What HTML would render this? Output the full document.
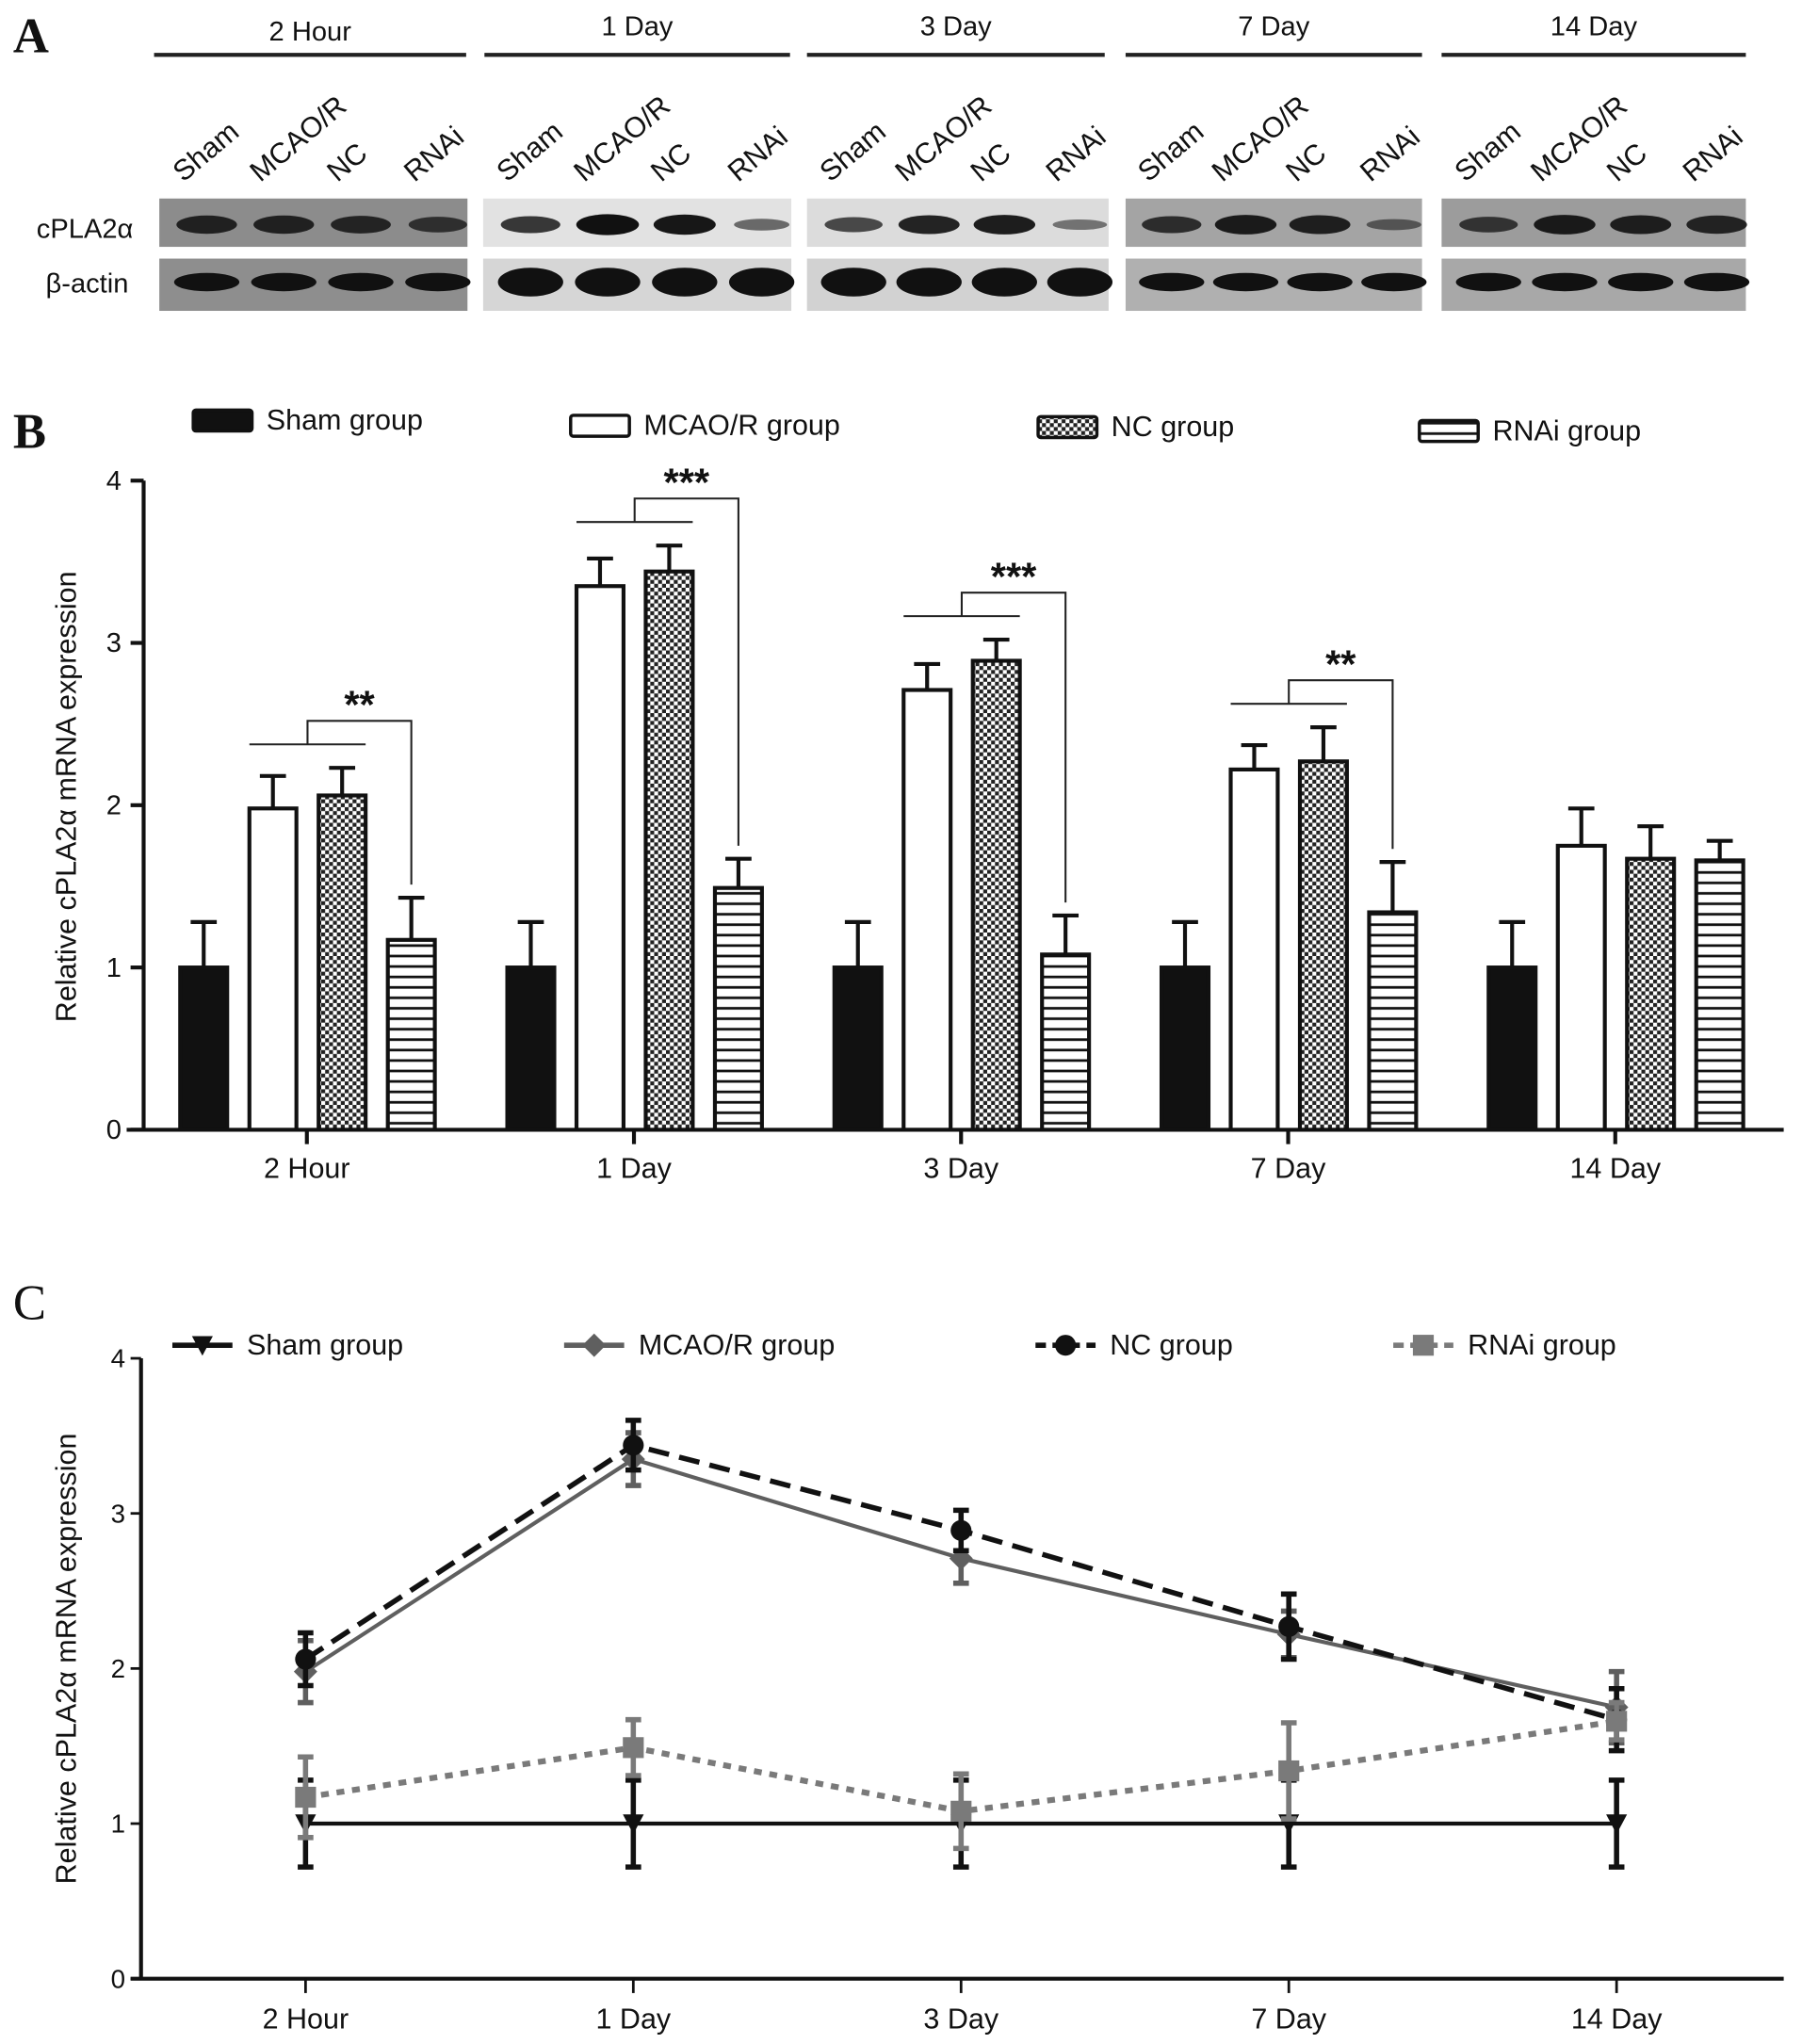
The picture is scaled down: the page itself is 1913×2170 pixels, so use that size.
<!DOCTYPE html>
<html><head><meta charset="utf-8"><style>
html,body{margin:0;padding:0;background:#fff}
svg{display:block}
text{font-family:"Liberation Sans",sans-serif;fill:#111}
</style></head><body>
<svg id="fig" width="1913" height="2170" viewBox="0 0 1380 1565" preserveAspectRatio="none" xmlns="http://www.w3.org/2000/svg">
<defs>
<pattern id="check" width="6" height="6" patternUnits="userSpaceOnUse"><rect width="6" height="6" fill="#fff"/><rect width="3" height="3" fill="#222"/><rect x="3" y="3" width="3" height="3" fill="#222"/></pattern>
<pattern id="stripe" width="8" height="8" patternUnits="userSpaceOnUse"><rect width="8" height="8" fill="#fff"/><rect y="3" width="8" height="2" fill="#111"/></pattern>
</defs>
<g id="panelA"></g>
<g id="panelB"></g>
<g id="panelC"></g>
</svg>
<script>
const times = ["2 Hour","1 Day","3 Day","7 Day","14 Day"];
const groups = ["Sham group","MCAO/R group","NC group","RNAi group"];
const lanes = ["Sham","MCAO/R","NC","RNAi"];
const shamVals = [1.0,1.0,1.0,1.0,1.0];
const shamErr = [0.28,0.28,0.28,0.28,0.28];
const mcaoVals = [1.98,3.35,2.71,2.22,1.75];
const mcaoErr = [0.2,0.17,0.16,0.15,0.23];
const ncVals = [2.06,3.44,2.89,2.27,1.67];
const ncErr = [0.17,0.16,0.13,0.21,0.2];
const rnaiVals = [1.17,1.49,1.08,1.34,1.66];
const rnaiErr = [0.26,0.18,0.24,0.31,0.12];
const sigLabels = ["**","***","***","**",""];
const yTicks = [0,1,2,3,4];
const cplaBand = [[0.8,0.8,0.75,0.6],[0.7,1,0.95,0.3],[0.55,0.85,0.9,0.2],[0.7,0.9,0.85,0.25],[0.6,0.9,0.85,0.8]];

const NS="http://www.w3.org/2000/svg";
const serif='font-family:"Liberation Serif",serif;font-weight:bold';
function mk(parent,tag,attrs,txt){const e=document.createElementNS(NS,tag);for(const k in attrs)e.setAttribute(k,attrs[k]);if(txt!==undefined)e.textContent=txt;parent.appendChild(e);return e;}

// ---------- Panel A ----------
const A=document.getElementById('panelA');
let t=mk(A,'text',{x:10,y:40,'font-size':38,style:serif},'A');

const boxes=[[122,358,'#8c8c8c','#8e8e8e'],[370,606,'#e2e2e2','#d6d6d6'],[618,849,'#dcdcdc','#d2d2d2'],[862,1089,'#a4a4a4','#b0b0b0'],[1104,1337,'#9c9c9c','#a8a8a8']];
const lineX=[[118,357],[371,605],[618,846],[862,1089],[1104,1337]];
times.forEach((tm,i)=>{
  const l=mk(A,'line',{x1:lineX[i][0],x2:lineX[i][1],y1:42,y2:42,stroke:'#222','stroke-width':3});
  
  const h=mk(A,'text',{x:(lineX[i][0]+lineX[i][1])/2,y:i==0?31:27,'font-size':21,'text-anchor':'middle'},tm);
  
  const [x0,x1,c1,c2]=boxes[i];const w=x1-x0;
  const r1=mk(A,'rect',{x:x0,y:152,width:w,height:37,fill:c1});
  
  const r2=mk(A,'rect',{x:x0,y:198,width:w,height:40,fill:c2});
  
  lanes.forEach((ln,j)=>{
    const cx=x0+w*(0.12+0.25*j);
    const lt=mk(A,'text',{x:cx-10,y:140,'font-size':22,transform:`rotate(-40 ${cx-10} 140)`},ln);
    
    const s=cplaBand[i][j];
    const b1=mk(A,'ellipse',{cx:cx+8,cy:172,rx:20+4*s,ry:3+5*s,fill:'#111','fill-opacity':0.4+0.6*s});
    
    const thick=(i==1||i==2)?11:7;
    const b2=mk(A,'ellipse',{cx:cx+8,cy:216,rx:25,ry:thick,fill:'#111'});
    
  });
});
t=mk(A,'text',{x:28,y:182,'font-size':21},'cPLA2α');
t=mk(A,'text',{x:35,y:224,'font-size':21},'β-actin');

// ---------- Panel B ----------
const B=document.getElementById('panelB');
const bY=v=>865-v*124.25;
const bX=i=>235+i*250.5;
const offs=[-79,-26,27,80];
t=mk(B,'text',{x:10,y:343,'font-size':38,style:serif},'B');

const legB=[[148,314,'#111'],[437,318,'#fff'],[795,319,'url(#check)'],[1087,322,'url(#stripe)']];
groups.forEach((g,k)=>{
  const [x,y,f]=legB[k];
  const r=mk(B,'rect',{x:x,y:y,width:45,height:16,fill:f,stroke:'#111','stroke-width':2.5,rx:2});
  
  const tx=mk(B,'text',{x:x+56,y:y+15,'font-size':22},g);
  
});
let ax=mk(B,'line',{x1:110,x2:110,y1:368,y2:866,stroke:'#111','stroke-width':3});
ax=mk(B,'line',{x1:97,x2:1366,y1:865,y2:865,stroke:'#111','stroke-width':3});
yTicks.forEach(v=>{
  const l=mk(B,'line',{x1:100,x2:110,y1:bY(v),y2:bY(v),stroke:'#111','stroke-width':3});
  const tx=mk(B,'text',{x:93,y:bY(v)+7,'font-size':21,'text-anchor':'end'},v);
});
t=mk(B,'text',{x:58,y:610,'font-size':22,'text-anchor':'middle',transform:'rotate(-90 58 610)'},'Relative cPLA2α mRNA expression');

const series=[[shamVals,shamErr,'#111'],[mcaoVals,mcaoErr,'#fff'],[ncVals,ncErr,'url(#check)'],[rnaiVals,rnaiErr,'url(#stripe)']];
times.forEach((tm,i)=>{
  const l=mk(B,'line',{x1:bX(i),x2:bX(i),y1:865,y2:876,stroke:'#111','stroke-width':3});
  const tx=mk(B,'text',{x:bX(i),y:902,'font-size':22,'text-anchor':'middle'},tm);
  series.forEach((s,k)=>{
    const v=s[0][i],e=s[1][i],cx=bX(i)+offs[k];
    const el=mk(B,'line',{x1:cx,x2:cx,y1:bY(v),y2:bY(v+e),stroke:'#111','stroke-width':3});
    const cl=mk(B,'line',{x1:cx-10,x2:cx+10,y1:bY(v+e),y2:bY(v+e),stroke:'#111','stroke-width':3});
    const r=mk(B,'rect',{x:cx-18,y:bY(v),width:36,height:bY(0)-bY(v),fill:s[2],stroke:'#111','stroke-width':3});
    
  });
  if(sigLabels[i]){
    const x1=bX(i)+offs[1]-18,x2=bX(i)+offs[2]+18,xm=(x1+x2)/2,xr=bX(i)+offs[3];
    const top=Math.max(mcaoVals[i]+mcaoErr[i],ncVals[i]+ncErr[i]);
    const yl=bY(top)-18,yb=yl-18,yr=bY(rnaiVals[i]+rnaiErr[i])-10;
    const p=mk(B,'path',{d:`M${x1},${yl}H${x2}M${xm},${yl}V${yb}H${xr}V${yr}`,fill:'none',stroke:'#222','stroke-width':1.5});
    
    const st=mk(B,'text',{x:(xm+xr)/2,y:yb-2,'font-size':30,'font-weight':'bold','text-anchor':'middle'},sigLabels[i]);
    
  }
});

// ---------- Panel C ----------
const C=document.getElementById('panelC');
const cY=v=>1515-v*118.75;
const cX=i=>234+i*251;
t=mk(C,'text',{x:10,y:1010,'font-size':38,style:'font-family:"Liberation Serif",serif'},'C');

ax=mk(C,'line',{x1:108,x2:108,y1:1040,y2:1516,stroke:'#111','stroke-width':3});
ax=mk(C,'line',{x1:100,x2:1366,y1:1515,y2:1515,stroke:'#111','stroke-width':3});
yTicks.forEach(v=>{
  const l=mk(C,'line',{x1:100,x2:108,y1:cY(v),y2:cY(v),stroke:'#111','stroke-width':2});
  const tx=mk(C,'text',{x:96,y:cY(v)+7,'font-size':20,'text-anchor':'end'},v);
});
t=mk(C,'text',{x:58,y:1270,'font-size':22,'text-anchor':'middle',transform:'rotate(-90 58 1270)'},'Relative cPLA2α mRNA expression');

times.forEach((tm,i)=>{
  const l=mk(C,'line',{x1:cX(i),x2:cX(i),y1:1515,y2:1526,stroke:'#111','stroke-width':2});
  const tx=mk(C,'text',{x:cX(i),y:1553,'font-size':22,'text-anchor':'middle'},tm);
});
function marker(g,type,x,y,c){
  let m;
  if(type==='tri')m=mk(g,'path',{d:`M${x-8},${y-7}H${x+8}L${x},${y+8}Z`,fill:c});
  else if(type==='dia')m=mk(g,'path',{d:`M${x},${y-9}L${x+9},${y}L${x},${y+9}L${x-9},${y}Z`,fill:c});
  else if(type==='cir')m=mk(g,'circle',{cx:x,cy:y,r:8,fill:c});
  else m=mk(g,'rect',{x:x-8,y:y-8,width:16,height:16,fill:c});
  
}
const lineSeries=[[shamVals,shamErr,'#111','','tri',3],[mcaoVals,mcaoErr,'#5f5f5f','','dia',3],[ncVals,ncErr,'#111','16 8','cir',4],[rnaiVals,rnaiErr,'#7a7a7a','6 6','sq',4.5]];
const legC=[[132,'Sham group'],[432,'MCAO/R group'],[793,'NC group'],[1067,'RNAi group']];
lineSeries.forEach((s,k)=>{
  const [vals,errs,col,dash,mt,sw]=s;
  const g=mk(C,'g',{});
  vals.forEach((v,i)=>{
    const x=cX(i);
    const e=mk(g,'path',{d:`M${x},${cY(v-errs[i])}V${cY(v+errs[i])}M${x-6},${cY(v-errs[i])}h12M${x-6},${cY(v+errs[i])}h12`,stroke:col,'stroke-width':4,fill:'none'});
    
  });
  const p=mk(g,'polyline',{points:vals.map((v,i)=>cX(i)+','+cY(v)).join(' '),fill:'none',stroke:col,'stroke-width':sw,'stroke-dasharray':dash});
  
  vals.forEach((v,i)=>marker(g,mt,cX(i),cY(v),col));
  const [lx,lab]=legC[k];
  const ll=mk(C,'line',{x1:lx,x2:lx+46,y1:1030,y2:1030,stroke:col,'stroke-width':4,'stroke-dasharray':dash?'8 5':''});
  
  marker(C,mt,lx+23,1030,col);
  const tx=mk(C,'text',{x:lx+57,y:1037,'font-size':22},lab);
  
});
</script>
</body></html>
